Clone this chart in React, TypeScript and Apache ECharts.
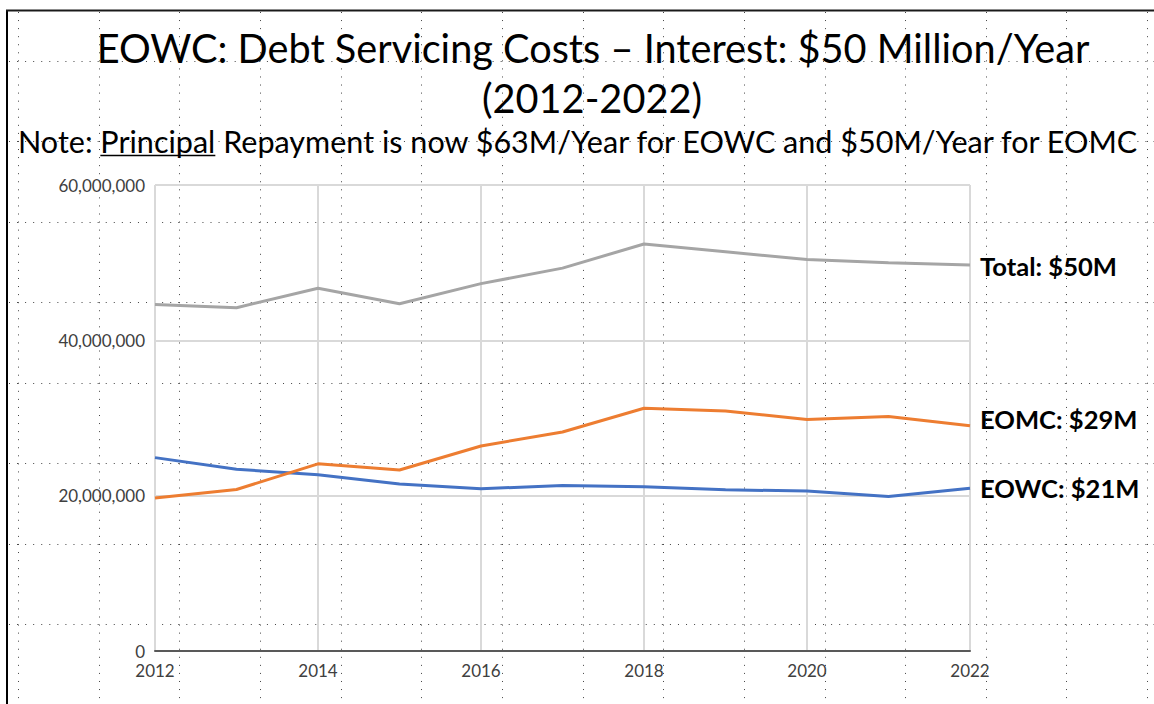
import React, { useEffect, useRef } from "react";
import * as echarts from "echarts";

const years = [2012, 2013, 2014, 2015, 2016, 2017, 2018, 2019, 2020, 2021, 2022];
const eowcValues = [24900000, 23400000, 22700000, 21500000, 20900000, 21300000, 21150000, 20750000, 20600000, 19900000, 20950000];
const eomcValues = [19700000, 20800000, 24100000, 23300000, 26400000, 28200000, 31250000, 30900000, 29800000, 30200000, 29000000];
const totalValues = [44600000, 44200000, 46700000, 44700000, 47300000, 49300000, 52400000, 51400000, 50400000, 50000000, 49700000];
const seriesNames = ["EOWC", "EOMC", "Total"];
const seriesColors = ["#4472C4", "#ED7D31", "#A5A5A5"];
const endLabelTexts = ["EOWC: $21M", "EOMC: $29M", "Total: $50M"];
const endLabelShifts = [0, -7, 1];
const yTicks = [0, 20000000, 40000000, 60000000];
const xTicks = [2012, 2014, 2016, 2018, 2020, 2022];

const titleLine1 = "EOWC: Debt Servicing Costs \u2013 Interest: $50 Million/Year";
const titleLine2 = "(2012-2022)";
const notePre = "Note:";
const noteUnderlined = "Principal";
const notePost = "Repayment is now $63M/Year for EOWC and $50M/Year for EOMC";

const FONT = "Lato";

function measure(text: string, size: number, weight = "normal"): number {
  const ctx = document.createElement("canvas").getContext("2d")!;
  ctx.font = `${weight} ${size}px ${FONT}`;
  return ctx.measureText(text).width;
}

function fmtThousands(v: number): string {
  return String(Math.round(v)).replace(/\B(?=(\d{3})+(?!\d))/g, ",");
}

export default function App() {
  const ref = useRef<HTMLDivElement>(null);

  useEffect(() => {
    if (!ref.current) return;
    const chart = echarts.init(ref.current, undefined, { renderer: "svg" });

    const t1Size = (40 * 993) / measure(titleLine1, 40);
    const fullNote = `${notePre} ${noteUnderlined} ${notePost}`;
    const noteSize = (30 * 1123) / measure(fullNote, 30);
    const noteLeft = 18;
    const preW = measure(`${notePre} `, noteSize);
    const undW = measure(noteUnderlined, noteSize);
    const postX = noteLeft + measure(`${notePre} ${noteUnderlined} `, noteSize);
    const endSize = (24 * 137) / measure(endLabelTexts[2], 24, "bold");

    const gridEls: any[] = [];
    for (let k = 0; k < 15; k++) {
      const x = Math.round(18 + 80.65 * k) + 0.5;
      gridEls.push({
        type: "line",
        z: -5,
        shape: { x1: x, y1: 12, x2: x, y2: 704 },
        style: { stroke: "#444", lineWidth: 1, lineDash: [1, 7.06] },
        silent: true,
      });
    }
    for (let k = 0; k < 8; k++) {
      const y = Math.round(60.5 + 80.5 * k) + 0.5;
      gridEls.push({
        type: "line",
        z: -5,
        shape: { x1: 9, y1: y, x2: 1154, y2: y },
        style: { stroke: "#444", lineWidth: 1, lineDash: [1, 7.06] },
        silent: true,
      });
    }

    const seriesData = [eowcValues, eomcValues, totalValues];

    chart.setOption({
      animation: false,
      backgroundColor: "#ffffff",
      grid: { left: 155, top: 185, width: 815, height: 466, containLabel: false },
      xAxis: {
        type: "value",
        min: xTicks[0],
        max: xTicks[xTicks.length - 1],
        interval: 2,
        axisLine: { show: true, lineStyle: { color: "#595959", width: 2 } },
        axisTick: { show: false },
        axisLabel: {
          formatter: (v: number) => String(v),
          color: "#404040",
          fontSize: 17,
          fontFamily: FONT,
          margin: 11,
        },
        splitLine: { show: true, lineStyle: { color: "#D9D9D9", width: 2 } },
      },
      yAxis: {
        type: "value",
        min: yTicks[0],
        max: yTicks[yTicks.length - 1],
        interval: yTicks[1] - yTicks[0],
        axisLine: { show: false },
        axisTick: { show: false },
        axisLabel: {
          formatter: (v: number) => fmtThousands(v),
          color: "#404040",
          fontSize: 17,
          fontFamily: FONT,
          margin: 10,
        },
        splitLine: { show: true, lineStyle: { color: "#D9D9D9", width: 2 } },
      },
      series: seriesNames.map((name, i) => ({
        name,
        type: "line",
        data: years.map((y, j) => [y, seriesData[i][j]]),
        symbol: "none",
        z: 3,
        lineStyle: { color: seriesColors[i], width: 3 },
        itemStyle: { color: seriesColors[i] },
        endLabel: {
          show: true,
          formatter: endLabelTexts[i],
          color: "#000",
          fontWeight: "bold",
          fontSize: endSize,
          fontFamily: FONT,
          distance: 10,
          offset: [0, endLabelShifts[i]],
        },
      })),
      graphic: {
        elements: [
          ...gridEls,
          {
            type: "line",
            z: 20,
            shape: { x1: 7, y1: 10, x2: 7, y2: 704 },
            style: { stroke: "#000", lineWidth: 2 },
          },
          {
            type: "line",
            z: 20,
            shape: { x1: 6, y1: 10.5, x2: 1154, y2: 10.5 },
            style: { stroke: "#1a1a1a", lineWidth: 2 },
          },
          {
            type: "text",
            z: 20,
            x: 593,
            y: 47,
            style: {
              text: titleLine1,
              fontSize: t1Size,
              fontFamily: FONT,
              fill: "#000",
              align: "center",
              verticalAlign: "middle",
            },
          },
          {
            type: "text",
            z: 20,
            x: 592,
            y: 97,
            style: {
              text: titleLine2,
              fontSize: t1Size,
              fontFamily: FONT,
              fill: "#000",
              align: "center",
              verticalAlign: "middle",
            },
          },
          {
            type: "text",
            z: 20,
            x: noteLeft,
            y: 141,
            style: {
              text: notePre,
              fontSize: noteSize,
              fontFamily: FONT,
              fill: "#000",
              align: "left",
              verticalAlign: "middle",
            },
          },
          {
            type: "text",
            z: 20,
            x: noteLeft + preW,
            y: 141,
            style: {
              text: noteUnderlined,
              fontSize: noteSize,
              fontFamily: FONT,
              fill: "#000",
              align: "left",
              verticalAlign: "middle",
            },
          },
          {
            type: "line",
            z: 20,
            shape: { x1: noteLeft + preW, y1: 155.5, x2: noteLeft + preW + undW, y2: 155.5 },
            style: { stroke: "#000", lineWidth: 1.5 },
          },
          {
            type: "text",
            z: 20,
            x: postX,
            y: 141,
            style: {
              text: notePost,
              fontSize: noteSize,
              fontFamily: FONT,
              fill: "#000",
              align: "left",
              verticalAlign: "middle",
            },
          },
        ],
      },
    });

    return () => chart.dispose();
  }, []);

  return (
    <div
      ref={ref}
      style={{ position: "fixed", left: 0, top: 0, width: 1154, height: 704, background: "#fff" }}
    />
  );
}
